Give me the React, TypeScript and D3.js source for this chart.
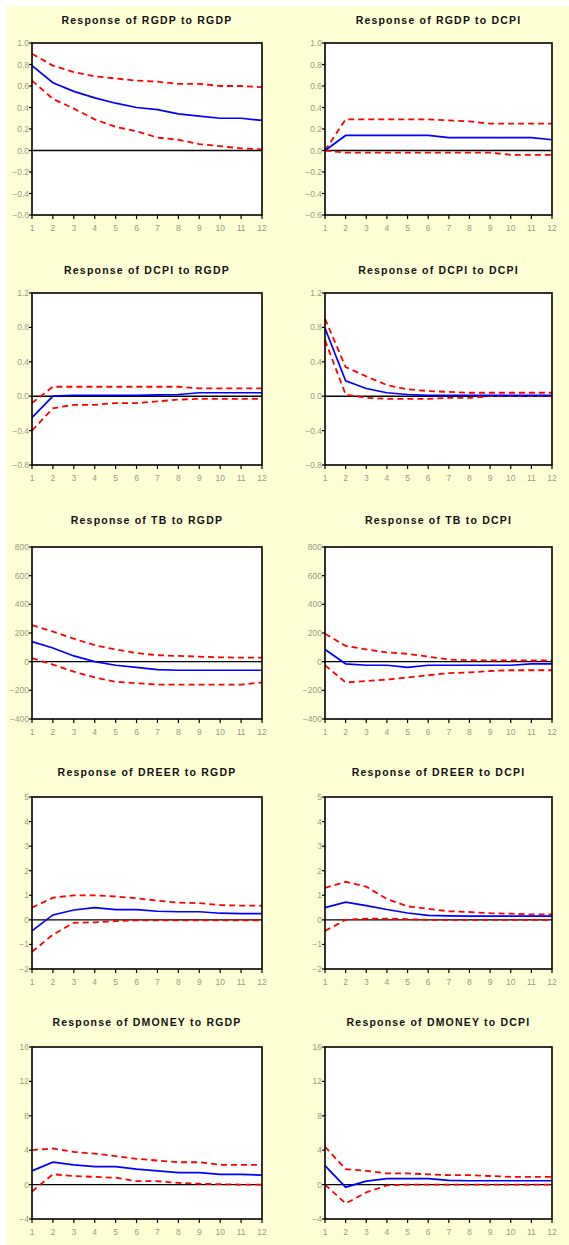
import React from 'react';
import * as d3 from 'd3';

const periods = [1, 2, 3, 4, 5, 6, 7, 8, 9, 10, 11, 12];

const titles = [
  'Response of RGDP to RGDP', 'Response of RGDP to DCPI',
  'Response of DCPI to RGDP', 'Response of DCPI to DCPI',
  'Response of TB to RGDP', 'Response of TB to DCPI',
  'Response of DREER to RGDP', 'Response of DREER to DCPI',
  'Response of DMONEY to RGDP', 'Response of DMONEY to DCPI',
];

// y domains and tick steps per response row
const yDomains: [number, number][] = [[-0.6, 1.0], [-0.8, 1.2], [-400, 800], [-2, 5], [-4, 16]];
const yTickSteps = [0.2, 0.4, 200, 1, 4];
const yTickFormats = ['.1f', '.1f', 'd', 'd', 'd'];

// impulse responses (blue) and ±2 s.e. bands (red dashed)
const resp = [
  [0.79, 0.63, 0.55, 0.49, 0.44, 0.40, 0.38, 0.34, 0.32, 0.30, 0.30, 0.28],
  [0.0, 0.14, 0.14, 0.14, 0.14, 0.14, 0.12, 0.12, 0.12, 0.12, 0.12, 0.10],
  [-0.25, 0.0, 0.01, 0.01, 0.01, 0.01, 0.015, 0.02, 0.04, 0.04, 0.04, 0.04],
  [0.79, 0.18, 0.09, 0.04, 0.02, 0.01, 0.01, 0.01, 0.01, 0.01, 0.01, 0.01],
  [140, 95, 40, 0, -25, -40, -55, -60, -60, -60, -60, -60],
  [85, -15, -25, -25, -40, -25, -25, -25, -25, -25, -15, -15],
  [-0.45, 0.2, 0.4, 0.5, 0.42, 0.42, 0.35, 0.33, 0.33, 0.27, 0.25, 0.25],
  [0.5, 0.72, 0.58, 0.42, 0.28, 0.18, 0.16, 0.15, 0.15, 0.15, 0.15, 0.15],
  [1.6, 2.6, 2.3, 2.1, 2.1, 1.8, 1.6, 1.4, 1.4, 1.2, 1.2, 1.1],
  [2.2, -0.3, 0.4, 0.7, 0.7, 0.7, 0.5, 0.45, 0.45, 0.45, 0.45, 0.45],
];

const upper = [
  [0.90, 0.79, 0.73, 0.69, 0.67, 0.65, 0.64, 0.62, 0.62, 0.60, 0.60, 0.59],
  [0.0, 0.29, 0.29, 0.29, 0.29, 0.29, 0.28, 0.27, 0.25, 0.25, 0.25, 0.25],
  [-0.08, 0.11, 0.11, 0.11, 0.11, 0.11, 0.11, 0.11, 0.09, 0.09, 0.09, 0.09],
  [0.90, 0.34, 0.23, 0.13, 0.08, 0.06, 0.05, 0.04, 0.04, 0.04, 0.04, 0.04],
  [255, 210, 160, 115, 85, 60, 45, 40, 35, 30, 28, 28],
  [195, 110, 85, 65, 55, 35, 15, 10, 8, 8, 8, 8],
  [0.5, 0.9, 1.0, 1.0, 0.95, 0.88, 0.78, 0.7, 0.68, 0.6, 0.58, 0.58],
  [1.3, 1.55, 1.35, 0.85, 0.55, 0.45, 0.35, 0.32, 0.27, 0.25, 0.22, 0.22],
  [4.0, 4.2, 3.8, 3.6, 3.3, 3.0, 2.8, 2.6, 2.6, 2.3, 2.3, 2.3],
  [4.4, 1.8, 1.6, 1.3, 1.3, 1.2, 1.1, 1.1, 1.0, 0.9, 0.9, 0.9],
];

const lower = [
  [0.65, 0.48, 0.39, 0.29, 0.22, 0.18, 0.12, 0.10, 0.06, 0.04, 0.02, 0.01],
  [0.0, -0.02, -0.02, -0.02, -0.02, -0.02, -0.02, -0.02, -0.02, -0.04, -0.04, -0.04],
  [-0.40, -0.14, -0.10, -0.10, -0.08, -0.08, -0.06, -0.04, -0.03, -0.03, -0.03, -0.03],
  [0.65, 0.02, -0.02, -0.03, -0.03, -0.03, -0.02, -0.02, 0.0, 0.0, 0.0, 0.0],
  [25, -20, -70, -110, -140, -150, -160, -160, -160, -160, -160, -145],
  [-25, -145, -135, -125, -110, -95, -80, -75, -65, -60, -60, -60],
  [-1.3, -0.6, -0.12, -0.1, -0.05, -0.02, -0.02, -0.02, -0.02, -0.02, -0.02, -0.02],
  [-0.45, 0.0, 0.05, 0.05, 0.03, 0.0, 0.0, 0.0, 0.0, 0.0, 0.0, 0.0],
  [-0.8, 1.2, 1.0, 0.9, 0.8, 0.4, 0.4, 0.2, 0.1, 0.05, 0.0, 0.0],
  [0.0, -2.2, -0.9, -0.1, 0.0, 0.0, 0.0, 0.0, 0.0, 0.0, 0.0, 0.0],
];

const W = 569;
const H = 1245;
const colX = [32, 325];
const colW = [230, 227];
const rowY = [43, 293, 547, 797, 1047];
const plotH = 172;
const titleGap = [19, 19, 23, 21, 21];
const labelColor = '#9a9a7e';
const font = "'Liberation Sans', Arial, sans-serif";

const Panel: React.FC<{ idx: number }> = ({ idx }) => {
  const row = Math.floor(idx / 2);
  const col = idx % 2;
  const x0 = colX[col];
  const y0 = rowY[row];
  const w = colW[col];
  const [lo, hi] = yDomains[row];

  const x = d3.scaleLinear().domain([1, 12]).range([x0, x0 + w]);
  const y = d3.scaleLinear().domain([lo, hi]).range([y0 + plotH, y0]);
  const step = yTickSteps[row];
  const yTicks = d3.range(lo, hi + step / 2, step).map((v) => Math.round(v * 1000) / 1000);
  const fmt = d3.format(yTickFormats[row]);

  const line = d3.line<number>().x((_, i) => x(periods[i])).y((d) => y(d));

  return (
    <g>
      <text x={x0 + w / 2} y={y0 - titleGap[row]} textAnchor="middle" fontSize={10.5}
        fontWeight="bold" fontFamily={font} fill="#111" letterSpacing={1.2}>
        {titles[idx]}
      </text>
      <rect x={x0} y={y0} width={w} height={plotH} fill="#fff" />
      <line x1={x0} x2={x0 + w} y1={y(0)} y2={y(0)} stroke="#000" strokeWidth={1.4} />
      <path d={line(upper[idx]) ?? ''} fill="none" stroke="#ff0000" strokeWidth={1.8} strokeDasharray="6,4" />
      <path d={line(lower[idx]) ?? ''} fill="none" stroke="#ff0000" strokeWidth={1.8} strokeDasharray="6,4" />
      <path d={line(resp[idx]) ?? ''} fill="none" stroke="#0000ff" strokeWidth={1.7} />
      <rect x={x0} y={y0} width={w} height={plotH} fill="none" stroke="#000" strokeWidth={1.6} />
      {yTicks.map((t) => (
        <g key={t}>
          <line x1={x0 - 3} x2={x0} y1={y(t)} y2={y(t)} stroke="#000" strokeWidth={1.2} />
          <text x={x0 - 3} y={y(t) + 3} textAnchor="end" fontSize={8.5}
            fontFamily={font} fill={labelColor}>
            {fmt(t)}
          </text>
        </g>
      ))}
      {periods.map((p) => (
        <g key={p}>
          <line x1={x(p)} x2={x(p)} y1={y0 + plotH} y2={y0 + plotH + 4} stroke="#000" strokeWidth={1.2} />
          <text x={x(p)} y={y0 + plotH + 16} textAnchor="middle" fontSize={8.5}
            fontFamily={font} fill={labelColor}>
            {p}
          </text>
        </g>
      ))}
    </g>
  );
};

const App: React.FC = () => {
  return (
    <svg width={W} height={H} style={{ position: 'absolute', left: 0, top: 0 }}>
      <rect x={0} y={0} width={W} height={H} fill="#fff" />
      <rect x={6} y={6} width={W - 6} height={H - 6} fill="#ffffd5" />
      {titles.map((_, i) => (
        <Panel key={i} idx={i} />
      ))}
    </svg>
  );
};

export default App;
